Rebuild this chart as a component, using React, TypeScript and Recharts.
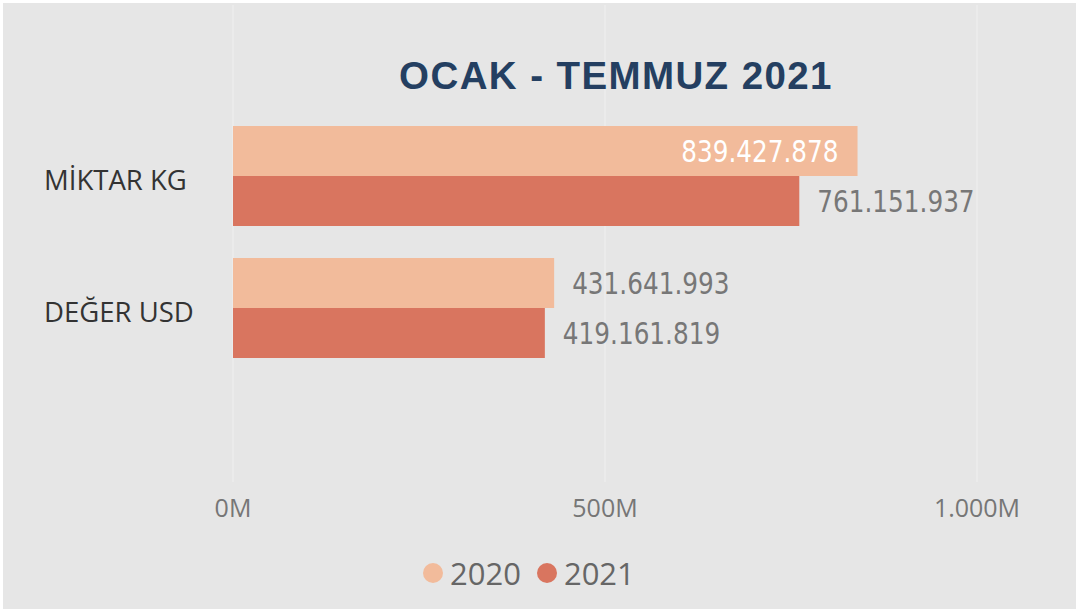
import React from "react";
import {
    Bar,
    BarChart,
    CartesianGrid,
    LabelList,
    Legend,
    XAxis,
    YAxis,
} from "recharts";

const categories = ["MİKTAR KG", "DEĞER USD"];
const values2020 = [839427878, 431641993];
const values2021 = [761151937, 419161819];
const seriesNames = ["2020", "2021"];
const seriesColors = ["#f2bb9b", "#d9755f"];
const xTicks = [0, 500000000, 1000000000];
const xTickLabels = ["0M", "500M", "1.000M"];
const title = "OCAK - TEMMUZ 2021";

const data = categories.map((name, i) => ({
    name,
    y2020: values2020[i],
    y2021: values2021[i],
}));

const W = 1076;
const H = 609;

const fmt = (v: number) => String(v).replace(/\B(?=(\d{3})+(?!\d))/g, ".");

const LABEL_FONT = "'DejaVu Sans Condensed', 'DejaVu Sans', sans-serif";

// Power BI style: label goes inside the bar end when it would not fit outside
function ValueLabel(props: any) {
    const { x, y, width, height, value } = props;
    const end = x + width;
    const text = fmt(value);
    const inside = end + 18 + 160 > 1000;
    return (
        <text
            x={inside ? end - 19 : end + 18}
            y={y + height / 2 + 11}
            textAnchor={inside ? "end" : "start"}
            fill={inside ? "#ffffff" : "#777777"}
            fontFamily={LABEL_FONT}
            fontSize={30}
            textLength={text.length * 14.3}
            lengthAdjust="spacingAndGlyphs"
        >
            {text}
        </text>
    );
}

function CategoryTick(props: any) {
    const { y, payload } = props;
    return (
        <text x={44} y={y + 13.5} fill="#333333" fontFamily="'Open Sans', sans-serif" fontSize={27.5}>
            {payload.value}
        </text>
    );
}

function ValueTick(props: any) {
    const { x, payload, index } = props;
    return (
        <text x={x} y={517} textAnchor="middle" fill="#767676" fontFamily="'Open Sans', sans-serif" fontSize={25}>
            {xTickLabels[index] ?? payload.value}
        </text>
    );
}

function LegendContent(props: any) {
    const { payload } = props;
    return (
        <div style={{ display: "flex", alignItems: "center", height: 42 }}>
            {(payload || []).map((p: any, i: number) => (
                <div key={i} style={{ display: "flex", alignItems: "center", marginRight: 16 }}>
                    <span
                        style={{
                            width: 20,
                            height: 20,
                            borderRadius: 10,
                            background: p.color,
                            marginRight: 7,
                            display: "inline-block",
                        }}
                    />
                    <span
                        style={{
                            fontFamily: "'Open Sans', sans-serif",
                            fontSize: 31,
                            lineHeight: "42px",
                            color: "#666666",
                        }}
                    >
                        {p.value}
                    </span>
                </div>
            ))}
        </div>
    );
}

export default function App() {
    return (
        <div style={{ position: "fixed", left: 0, top: 0, width: W, height: H, background: "#ffffff", overflow: "hidden" }}>
            <div style={{ position: "absolute", left: 3, top: 3, width: W - 3, height: H - 3, background: "#e6e6e6" }} />
            <div style={{ position: "absolute", left: 0, top: 0 }}>
                <BarChart
                    width={W}
                    height={H}
                    data={data}
                    layout="vertical"
                    margin={{ top: 5, right: 99, bottom: 87, left: 0 }}
                    barGap={0}
                >
                    <CartesianGrid horizontal={false} stroke="#ececec" strokeWidth={1.5} />
                    <XAxis
                        type="number"
                        domain={[0, 1000000000]}
                        ticks={xTicks}
                        axisLine={false}
                        tickLine={false}
                        height={40}
                        tick={<ValueTick />}
                        interval={0}
                    />
                    <YAxis
                        type="category"
                        dataKey="name"
                        width={233}
                        axisLine={false}
                        tickLine={false}
                        padding={{ top: 105, bottom: 108 }}
                        tick={<CategoryTick />}
                    />
                    <Legend
                        layout="vertical"
                        align="center"
                        verticalAlign="middle"
                        content={<LegendContent />}
                        wrapperStyle={{ top: 552, left: 423, width: 300, height: 42 }}
                    />
                    <Bar dataKey="y2020" name={seriesNames[0]} fill={seriesColors[0]} barSize={50} isAnimationActive={false}>
                        <LabelList dataKey="y2020" content={<ValueLabel />} />
                    </Bar>
                    <Bar dataKey="y2021" name={seriesNames[1]} fill={seriesColors[1]} barSize={50} isAnimationActive={false}>
                        <LabelList dataKey="y2021" content={<ValueLabel />} />
                    </Bar>
                </BarChart>
            </div>
            <svg style={{ position: "absolute", left: 0, top: 0 }} width={W} height={H}>
                <text
                    x={616}
                    y={89}
                    textAnchor="middle"
                    fill="#243f61"
                    fontFamily="'Liberation Sans', Arial, sans-serif"
                    fontWeight="bold"
                    fontSize={38.5}
                    letterSpacing={1.4}
                >
                    {title}
                </text>
            </svg>
        </div>
    );
}
